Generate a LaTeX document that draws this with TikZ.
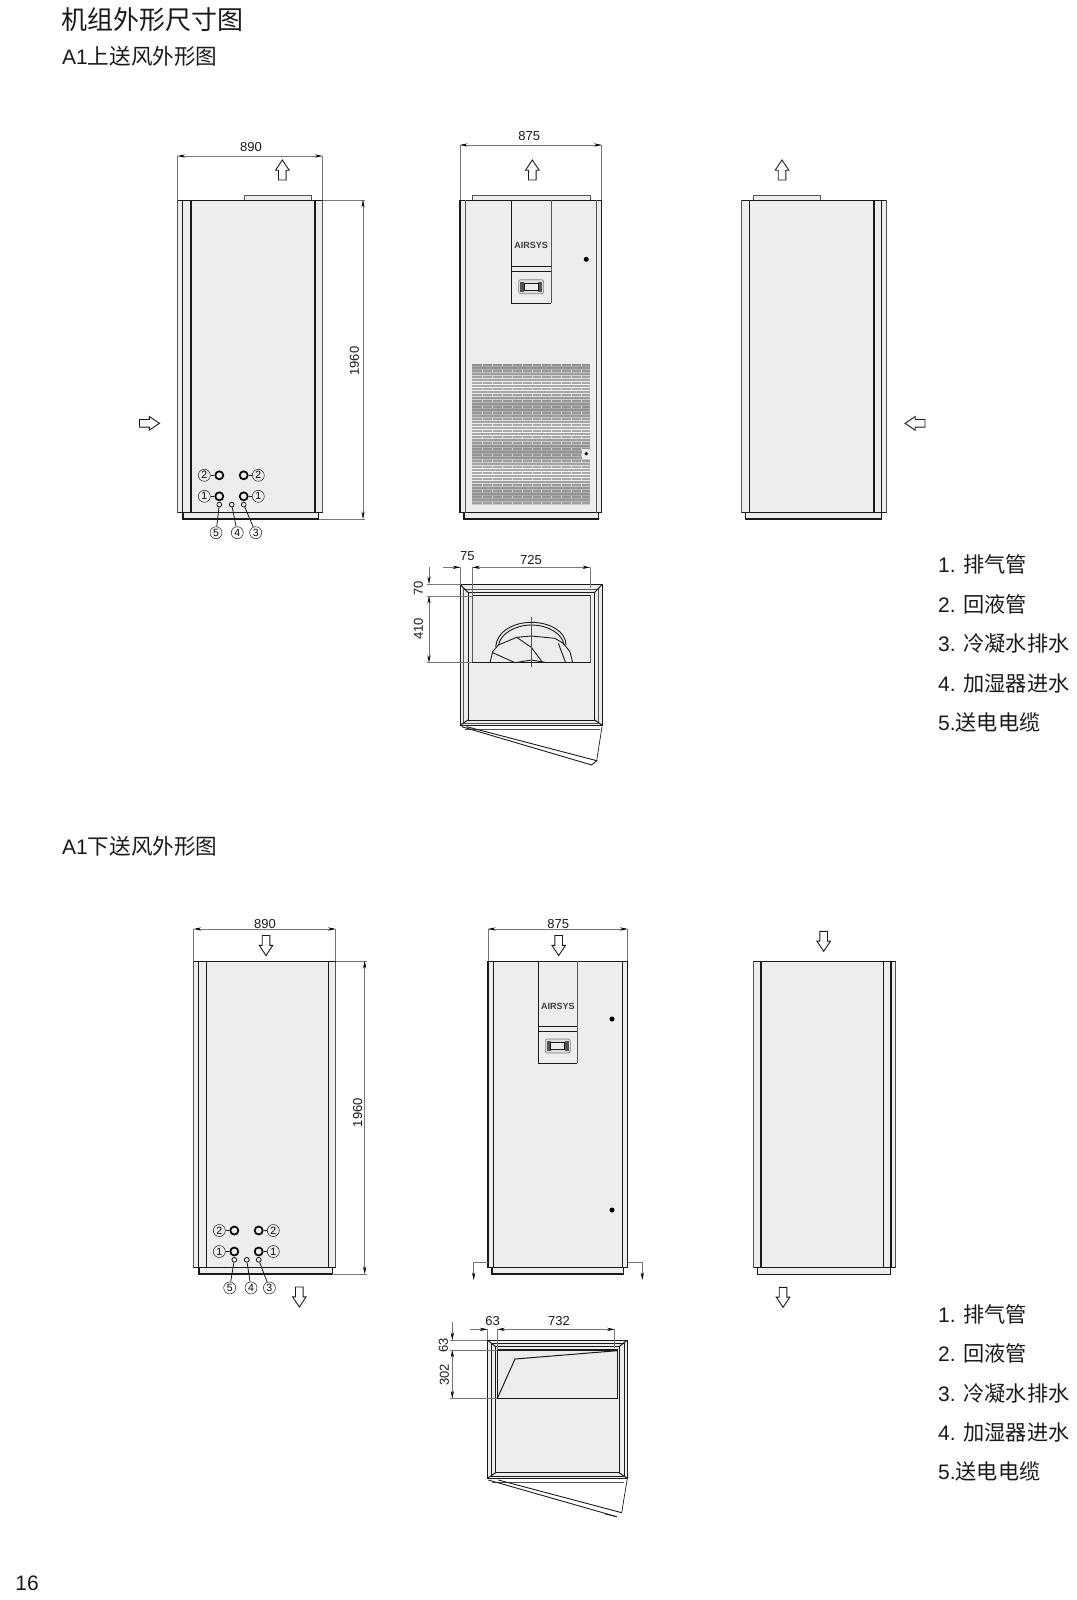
\documentclass[tikz,border=0pt]{standalone}
\usepackage{fontspec}
\setmainfont{Liberation Sans}
\newfontfamily\cjk{Noto Sans CJK SC}
\usetikzlibrary{arrows.meta}
\definecolor{body}{HTML}{EDEDED}
\definecolor{edge}{HTML}{555555}
\definecolor{ink}{HTML}{1A1A1A}
\definecolor{dimc}{HTML}{777777}
\newcommand\fs[1]{\fontsize{#1}{#1}\selectfont}
\tikzset{
  thinedge/.style={draw=edge,line width=.9pt},
  thick edge/.style={draw=ink,line width=1.3pt},
  plan edge/.style={draw=ink,line width=1pt},
  top edge/.style={draw=ink,line width=.9pt},
  bodyfill/.style={fill=body,draw=edge,line width=.9pt},
  dimline/.style={draw=dimc,line width=.5pt},
  dimboth/.style={dimline,{Stealth[length=7.5pt,width=3.2pt,color=black]}-{Stealth[length=7.5pt,width=3.2pt,color=black]}},
  dimend/.style={dimline,-{Stealth[length=7.5pt,width=3.2pt,color=black]}},
  dimtext/.style={font=\fs{13},inner sep=0pt,text=ink},
  title/.style={anchor=west,inner sep=0pt,text=ink},
  portbig/.style={circle,draw=black,line width=1.7pt,minimum size=8pt,inner sep=0pt},
  portsmall/.style={circle,draw=ink,line width=.8pt,minimum size=4.8pt,inner sep=0pt},
  portlabel/.style={circle,draw=ink,line width=.5pt,minimum size=12pt,inner sep=0pt,font=\fs{10.5}},
  leader/.style={draw=ink,line width=.8pt},
  pics/blockarrow/.style={code={
    \draw[ink,line width=.9pt,fill=white,line join=miter] (0,-10)--(6.8,0.2)--(3.8,0.2)--(3.8,10)--(-3.8,10)--(-3.8,0.2)--(-6.8,0.2)--cycle;
  }},
}
% ports on the side view
\newcommand\ports[4]{%
\begin{scope}[shift={(#2,#3)}]
  \node[portbig] (#1a2) at (219.3,475.3) {};
  \node[portbig] (#1b2) at (243.7,475.3) {};
  \node[portbig] (#1a1) at (219.3,496.3) {};
  \node[portbig] (#1b1) at (243.7,496.3) {};
  \node[portlabel] (#1la2) at (204.3,475.3) {2};
  \node[portlabel] (#1lb2) at (258.3,475.3) {2};
  \node[portlabel] (#1la1) at (204.3,496.3) {1};
  \node[portlabel] (#1lb1) at (258.3,496.3) {1};
  \node[portsmall] (#1s5) at (219.3,504.6) {};
  \node[portsmall] (#1s4) at (231.7,504.6) {};
  \node[portsmall] (#1s3) at (243.7,504.6) {};
  \node[portlabel] (#1l5) at (216+#4,532.7) {5};
  \node[portlabel] (#1l4) at (237.3+#4,532.7) {4};
  \node[portlabel] (#1l3) at (255.7+#4,532.7) {3};
  \draw[leader] (#1la2)--(#1a2);
  \draw[leader] (#1lb2)--(#1b2);
  \draw[leader] (#1la1)--(#1a1);
  \draw[leader] (#1lb1)--(#1b1);
  \draw[leader] (#1s5)--(#1l5);
  \draw[leader] (#1s4)--(#1l4);
  \draw[leader] (#1s3)--(#1l3);
\end{scope}}
% control panel: name, left, right, top, cy-logo, line1, line2, handle-y, bottom
\newcommand\panel[9]{%
  \draw[ink,line width=1pt] (#2,#4)--(#2,#9)--(#3,#9);
  \draw[edge,line width=1pt] (#3,#4)--(#3,#9);
  \draw[ink,line width=1pt] (#2,#6)--(#3,#6);
  \draw[ink,line width=1pt] (#2,#7)--(#3,#7);
  \node[inner sep=0pt,font=\fs{9}\bfseries,text=ink!85] (#1logo) at ({(#2+#3)/2},#5) {AIRSYS};
  \begin{scope}[shift={({(#2+#3)/2},#8)}]
    \draw[gray,line width=.6pt,rounded corners=2pt,fill=gray!25] (-12.5,-7)rectangle(12.5,7);
    \fill[ink!75] (-11,-5) rectangle (-7,5);
    \fill[ink!75] (7,-5) rectangle (11,5);
    \draw[ink,line width=1pt,fill=body] (-7,-3.4) rectangle (7,3.4);
  \end{scope}}
\begin{document}
\begin{tikzpicture}[x=1pt,y=-1pt]
\useasboundingbox (0,0) rectangle (1076,1600);
% titles
\node[title,font=\cjk\fs{26}] (t1) at (61.5,19.5) {机组外形尺寸图};
\node[title] (t2) at (62,56.5) {\fs{21}A1{\cjk\fs{21.6}上送风外形图}};
\node[title] (t3) at (62,846.5) {\fs{21}A1{\cjk\fs{21.6}下送风外形图}};
\node[title,font=\fs{21}] (pg) at (15.3,1583) {16};
% legends
\foreach \n/\ya/\yb/\yc/\yd/\ye in {a/564/604.2/643.5/683/722.5,b/1314/1353.5/1393/1432/1471.5}{
 \node[title] (\n l1) at (938,\ya) {\fs{21}1. {\cjk\fs{21.2}排气管}};
 \node[title] (\n l2) at (938,\yb) {\fs{21}2. {\cjk\fs{21.2}回液管}};
 \node[title] (\n l3) at (938,\yc) {\fs{21}3. {\cjk\fs{21.2}冷凝水排水}};
 \node[title] (\n l4) at (938,\yd) {\fs{21}4. {\cjk\fs{21.2}加湿器进水}};
 \node[title] (\n l5) at (938,\ye) {\fs{21}5.{\cjk\fs{21.2}送电电缆}};
}
%% ---------- UPPER LEFT VIEW
\draw[bodyfill] (244.3,195) rectangle (311.7,200);
\draw[bodyfill] (183,512.7) rectangle (318.7,519);
\draw[bodyfill] (177.5,200) rectangle (322.5,512.7);
\draw[top edge] (177.5,200)--(322.5,200);
\draw[thick edge] (177.5,512.7)--(322.5,512.7);
\draw[thick edge] (183,512.7)--(183,519)--(318.7,519)--(318.7,512.7);
\foreach \xx in {182.7,191,315}{\draw[thick edge] (\xx,200)--(\xx,512.7);}
\ports{ua}{0}{0}{0}
\draw[dimline] (177.5,156)--(177.5,200);
\draw[dimline] (322.5,156)--(322.5,200);
\draw[dimboth] (177.5,156)--(322.5,156);
\node[dimtext] (ud1) at (251,146.7) {890};
\draw[dimline] (322.5,200)--(365,200);
\draw[dimline] (318.7,519)--(365,519);
\draw[dimboth] (363,200)--(363,519);
\node[dimtext,rotate=90] (ud2) at (354.3,361) {1960};
\pic at (282.3,170) {blockarrow};
\pic[rotate=-90] at (149.5,423.3) {blockarrow};
%% ---------- UPPER FRONT VIEW
\draw[bodyfill] (472.3,195) rectangle (590.7,200);
\draw[bodyfill] (464,512.7) rectangle (598.3,519);
\draw[bodyfill] (460,200) rectangle (601.7,512.7);
\draw[top edge] (460,200)--(601.7,200);
\draw[thick edge] (460,512.7)--(601.7,512.7);
\draw[thick edge] (464,512.7)--(464,519)--(598.3,519)--(598.3,512.7);
\draw[thick edge] (460,200)--(460,512.7);
\draw[thick edge] (601.7,200)--(601.7,512.7);
\draw[thinedge] (465.3,200)--(465.3,512.7);
\draw[thinedge] (596.7,200)--(596.7,512.7);
\panel{up}{511.3}{551}{200}{245}{266}{271.7}{286.7}{303.3}
\fill[black] (586.3,259.3) circle (2.5);
% grille
\foreach \r in {0,...,46}{
  \pgfmathsetmacro\gv{38+5*cos(360*(\r-14)/14.5)}
  \pgfmathsetmacro\gw{max(4,3.2*(\gv-33))}
  \fill[black!\gv] (472.3,364.3+3*\r) rectangle (590,364.3+3*\r+2);
  \fill[black!\gw] (472.3,364.3+3*\r+2) rectangle (590,364.3+3*\r+3);
}
\foreach \xx in {482,492,502,511.5,521.5,531.5,541,551,561,570.5,580.5}{
  \foreach \r in {0,2,...,46}{
    \fill[white,opacity=.6] (\xx,364.3+3*\r) rectangle (\xx+.7,364.3+3*\r+2);
  }
}
\fill[body] (582,449) rectangle (590.5,458.5);
\fill[ink] (586.3,453.7) circle (1.9);
\draw[dimline] (460,145)--(460,200);
\draw[dimline] (601.7,145)--(601.7,200);
\draw[dimboth] (460,145)--(601.7,145);
\node[dimtext] (ud3) at (529.3,136) {875};
\pic at (532.3,170) {blockarrow};
%% ---------- UPPER RIGHT VIEW
\draw[bodyfill] (753,195) rectangle (820,200);
\draw[bodyfill] (745.7,512.7) rectangle (881.3,519);
\draw[bodyfill] (741.7,200) rectangle (886.3,512.7);
\draw[top edge] (741.7,200)--(886.3,200);
\draw[thick edge] (741.7,512.7)--(886.3,512.7);
\draw[thick edge] (745.7,512.7)--(745.7,519)--(881.3,519)--(881.3,512.7);
\foreach \xx in {749.3,874,881.3}{\draw[thick edge] (\xx,200)--(\xx,512.7);}
\pic at (782,170) {blockarrow};
\pic[rotate=90] at (915,423.3) {blockarrow};
%% ---------- UPPER PLAN (3x zoom coordinates)
\begin{scope}[xshift=400pt,yshift=-530pt,x=.33333pt,y=-.33333pt]
  \fill[body] (181,164) rectangle (606,585);
  \draw[plan edge] (181,164) rectangle (606,585);
  \draw[plan edge] (204,187) rectangle (584,570);
  \draw[thinedge,line width=.6pt] (190,177) rectangle (595,580);
  \draw[plan edge] (181,164)--(204,187);
  \draw[plan edge] (606,164)--(584,187);
  \draw[plan edge] (181,585)--(204,570);
  \draw[plan edge] (606,585)--(584,570);
  \draw[thinedge,fill=body] (217,197) rectangle (570,398);
  \draw[plan edge] (217,197)--(570,197);
  \draw[thinedge] (195,598)--(600,598);
  % fan
  \draw[ink,line width=.9pt] (287,350) .. controls (290,305) and (340,277) .. (394,277) .. controls (450,277) and (498,305) .. (498,345);
  \draw[ink,line width=.9pt] (296,345) .. controls (300,312) and (345,285) .. (394,285) .. controls (445,285) and (488,312) .. (492,345);
  \draw[ink,line width=.9pt] (270,398)--(278,365)--(295,345)--(350,322)--(394,318)--(465,325)--(490,340)--(510,365)--(518,398);
  \draw[ink,line width=.9pt] (278,368)--(345,398)--(394,390)--(440,398);
  \draw[ink,line width=.9pt] (350,322)--(394,352)--(428,398);
  \draw[ink,line width=.9pt] (475,340)--(497,398);
  \draw[thinedge] (394,262)--(394,412);
  \draw[thick edge] (217,398)--(570,398);
  % door
  \draw[ink,line width=.9pt] (185,590)--(575,705)--(590,692)--(200,590);
  \draw[ink,line width=.7pt] (590,692)--(606,590);
  % dims
  \draw[dimend] (128,112)--(181,112);
  \draw[dimboth] (217,112)--(570,112);
  \draw[dimline] (181,112)--(181,164);
  \draw[dimline] (217,112)--(217,197);
  \draw[dimline] (570,112)--(570,175);
  \draw[dimend] (87,110)--(87,162);
  \draw[dimboth] (87,198)--(87,398);
  \draw[dimline] (82,162)--(181,162);
  \draw[dimline] (82,198)--(217,198);
  \draw[dimline] (82,398)--(217,398);
  \node[dimtext] (upa) at (202,78) {75};
  \node[dimtext] (upb) at (393,90) {725};
  \node[dimtext,rotate=90] (upc) at (55,176) {70};
  \node[dimtext,rotate=90] (upd) at (55,296) {410};
\end{scope}
%% ---------- LOWER LEFT VIEW
\draw[bodyfill] (199,1267.7) rectangle (332.3,1274);
\draw[bodyfill] (193.7,961) rectangle (335.7,1267.7);
\draw[top edge] (193.7,961)--(335.7,961);
\draw[thick edge] (193.7,1267.7)--(335.7,1267.7);
\draw[thick edge] (199,1267.7)--(199,1274)--(332.3,1274)--(332.3,1267.7);
\foreach \xx in {198.3,206.3,328.3}{\draw[thick edge] (\xx,961)--(\xx,1267.7);}
\ports{la}{15}{755.2}{-1.3}
\draw[dimline] (193.7,929)--(193.7,961);
\draw[dimline] (335.7,929)--(335.7,961);
\draw[dimboth] (193.7,929)--(335.7,929);
\node[dimtext] (ld1) at (265,924) {890};
\draw[dimline] (335.7,961)--(367,961);
\draw[dimline] (332.3,1274)--(367,1274);
\draw[dimboth] (364.7,961)--(364.7,1274);
\node[dimtext,rotate=90] (ld2) at (357.7,1112.7) {1960};
\pic[rotate=180] at (266,945.5) {blockarrow};
\pic[rotate=180] at (299.3,1297) {blockarrow};
%% ---------- LOWER FRONT VIEW
\draw[bodyfill] (492,1267.7) rectangle (623.7,1274);
\draw[bodyfill] (488,961) rectangle (627.7,1267.7);
\draw[top edge] (488,961)--(627.7,961);
\draw[thick edge] (488,1267.7)--(627.7,1267.7);
\draw[thick edge] (492,1267.7)--(492,1274)--(623.7,1274)--(623.7,1267.7);
\foreach \xx in {488,493.3,622.3,627.7}{\draw[thick edge] (\xx,961)--(\xx,1267.7);}
\panel{lp}{538.3}{577.3}{961}{1006.7}{1026}{1031}{1046}{1063.3}
\fill[black] (612,1019) circle (2.5);
\fill[black] (612,1210) circle (2.5);
\draw[dimline] (488,929)--(488,961);
\draw[dimline] (627.7,929)--(627.7,961);
\draw[dimboth] (488,929)--(627.7,929);
\node[dimtext] (ld3) at (558.3,924) {875};
\pic[rotate=180] at (558.7,945.5) {blockarrow};
\draw[dimend] (488,1262.7)--(473.7,1262.7)--(473.7,1280);
\draw[dimend] (627.7,1262.7)--(642.3,1262.7)--(642.3,1280);
%% ---------- LOWER RIGHT VIEW
\draw[bodyfill] (757.7,1267.3) rectangle (890.7,1274.3);
\draw[bodyfill] (753.7,961) rectangle (895.7,1267.3);
\draw[top edge] (753.7,961)--(895.7,961);
\draw[thick edge] (753.7,1267.3)--(895.7,1267.3);
\draw[thick edge] (757.7,1267.3)--(757.7,1274.3)--(890.7,1274.3)--(890.7,1267.3);
\foreach \xx in {761,883.3,891}{\draw[thick edge] (\xx,961)--(\xx,1267.3);}
\pic[rotate=180] at (823.7,941.3) {blockarrow};
\pic[rotate=180] at (783,1297.3) {blockarrow};
%% ---------- LOWER PLAN (3x zoom coordinates)
\begin{scope}[xshift=420pt,yshift=-1290pt,x=.33333pt,y=-.33333pt]
  \fill[body] (202,150) rectangle (622,565);
  \draw[plan edge] (202,150) rectangle (622,565);
  \draw[plan edge] (227,170) rectangle (597,548);
  \draw[plan edge] (215,160) rectangle (612,558);
  \draw[plan edge] (202,150)--(227,170);
  \draw[plan edge] (622,150)--(597,170);
  \draw[plan edge] (202,565)--(227,548);
  \draw[plan edge] (622,565)--(597,548);
  \draw[thick edge,fill=body] (232,180) rectangle (592,325);
  \draw[plan edge] (232,325)--(285,207)--(592,182);
  \draw[thinedge] (215,577)--(612,577);
  % door
  \draw[ink,line width=.9pt] (205,570)--(590,680);
  \draw[ink,line width=.9pt] (235,570)--(605,668);
  \draw[ink,line width=.7pt] (622,565)--(605,668);
  \draw[ink,line width=.7pt] (590,680)--(555,672);
  % dims
  \draw[dimend] (150,118)--(202,118);
  \draw[dimboth] (232,118)--(584,118);
  \draw[dimline] (202,118)--(202,150);
  \draw[dimline] (232,118)--(232,180);
  \draw[dimline] (584,118)--(584,175);
  \draw[dimend] (97,97)--(97,150);
  \draw[dimboth] (97,180)--(97,325);
  \draw[dimline] (90,150)--(202,150);
  \draw[dimline] (90,180)--(232,180);
  \draw[dimline] (90,325)--(232,325);
  \node[dimtext] (lpa) at (218,93) {63};
  \node[dimtext] (lpb) at (417,93) {732};
  \node[dimtext,rotate=90] (lpc) at (70,165) {63};
  \node[dimtext,rotate=90] (lpd) at (73,255) {302};
\end{scope}
\end{tikzpicture}
\end{document}
